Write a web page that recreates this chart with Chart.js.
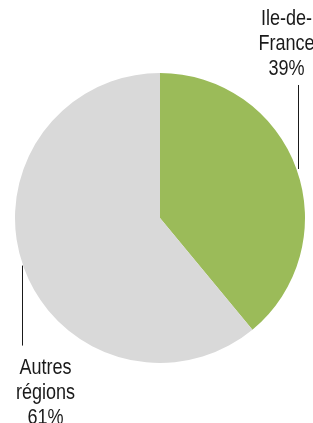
<!DOCTYPE html>
<html><head><meta charset="utf-8">
<script src="https://cdn.jsdelivr.net/npm/chart.js@4/dist/chart.umd.min.js"></script>
<style>html,body{margin:0;padding:0;background:#fff}#w{width:313px;height:423px}</style>
</head><body><div id="w"><canvas id="c" width="313" height="423"></canvas></div>
<script>
const categories = ["Ile-de-France", "Autres régions"];
const labelLines = [["Ile-de-", "France", "39%"], ["Autres", "régions", "61%"]];
const values = [39, 61];
const colors = ["#9BBB59", "#D9D9D9"];
const FONT = "'Liberation Sans',Arial,sans-serif";

const labelPlugin = {
  id: 'outLabels',
  afterDatasetsDraw(chart) {
    const ctx = chart.ctx;
    const meta = chart.getDatasetMeta(0);
    const arc0 = meta.data[0];
    const cx = arc0.x, cy = arc0.y, r = arc0.outerRadius;
    // leader line anchor angles (clockwise from top, degrees) and lengths
    const specs = [
      {ang: 71.5, dir: -1, len: 84, tx: -12, gap: 10},
      {ang: 252.1, dir: 1, len: 80, tx: 23, gap: 28}
    ];
    ctx.save();
    ctx.font = "22px " + FONT;
    ctx.fillStyle = "#1a1a1a";
    ctx.strokeStyle = "#1a1a1a";
    ctx.lineWidth = 1;
    ctx.textAlign = "center";
    ctx.textBaseline = "alphabetic";
    const sx = 0.82;
    specs.forEach((s, i) => {
      const a = s.ang * Math.PI / 180;
      const px = Math.round(cx + r * Math.sin(a)) + 0.5;
      const py = cy - r * Math.cos(a);
      const startY = py + s.dir * 3;
      const endY = startY + s.dir * s.len;
      ctx.beginPath();
      ctx.moveTo(px, startY);
      ctx.lineTo(px, endY);
      ctx.stroke();
      const lines = labelLines[i];
      const lh = 25;
      for (let k = 0; k < lines.length; k++) {
        let y;
        if (s.dir < 0) y = endY - s.gap - (lines.length - 1 - k) * lh;
        else y = endY + s.gap + k * lh;
        ctx.save();
        ctx.translate(px + s.tx, y);
        ctx.scale(sx, 1);
        ctx.fillText(lines[k], 0, 0);
        ctx.restore();
      }
    });
    ctx.restore();
  }
};

new Chart(document.getElementById('c'), {
  type: 'pie',
  data: {
    labels: categories,
    datasets: [{ data: values, backgroundColor: colors, borderWidth: 0 }]
  },
  options: {
    responsive: false,
    animation: false,
    layout: { padding: { top: 73, bottom: 60, left: 15, right: 8 } },
    plugins: { legend: { display: false }, tooltip: { enabled: false } }
  },
  plugins: [labelPlugin]
});
</script></body></html>
